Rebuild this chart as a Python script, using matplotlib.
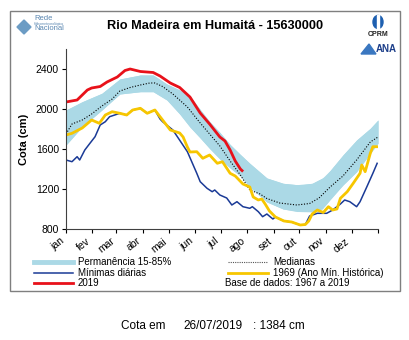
import matplotlib
matplotlib.use('Agg')
import matplotlib.pyplot as plt
from matplotlib.lines import Line2D
from matplotlib.patches import Rectangle, Polygon, Ellipse
import numpy as np

plt.rcParams['font.family'] = ['Liberation Sans', 'DejaVu Sans']

months = ['jan', 'fev', 'mar', 'abr', 'mai', 'jun', 'jul', 'ago', 'set', 'out', 'nov', 'dez']
month_starts = [0, 31, 59, 90, 120, 151, 181, 212, 243, 273, 304, 334, 365]

# faixa de permanencia 15-85% (dia do ano, cota cm)
band_up_days = [0, 19, 42, 63, 87, 102, 118, 133, 145, 157, 168, 180, 192, 204, 215, 235, 254, 274, 288, 303, 324, 340, 356, 365]
band_up_vals = [1990, 2073, 2157, 2300, 2340, 2340, 2250, 2190, 2130, 1995, 1875, 1765, 1645, 1545, 1457, 1310, 1257, 1240, 1257, 1323, 1540, 1690, 1807, 1890]
band_lo_days = [0, 19, 42, 63, 87, 102, 118, 133, 145, 157, 168, 180, 192, 204, 215, 235, 254, 270, 288, 300, 309, 324, 340, 356, 365]
band_lo_vals = [1640, 1823, 1990, 2150, 2173, 2173, 2090, 1950, 1820, 1710, 1605, 1500, 1410, 1330, 1220, 1070, 1000, 975, 973, 1000, 1100, 1240, 1373, 1557, 1657]

# medianas
med_days = [0, 7, 19, 30, 42, 54, 63, 75, 87, 98, 104, 113, 125, 142, 157, 172, 180, 192, 204, 215, 227, 235, 250, 270, 285, 296, 309, 324, 340, 356, 365]
med_vals = [1750, 1850, 1890, 1950, 2030, 2100, 2180, 2215, 2240, 2260, 2260, 2225, 2150, 2020, 1860, 1710, 1630, 1480, 1340, 1190, 1150, 1105, 1060, 1040, 1055, 1110, 1220, 1330, 1490, 1670, 1720]

# 1969 (ano minimo historico)
y1969_days = [0, 7, 19, 30, 39, 46, 54, 63, 71, 78, 87, 95, 104, 113, 122, 133, 137, 142, 145, 153, 160, 168, 177, 183, 192, 198, 207, 215, 219, 225, 229, 233, 238, 245, 255, 264, 274, 280, 284, 288, 294, 301, 307, 312, 317, 321, 329, 336, 344, 346, 350, 356, 359, 365]
y1969_vals = [1740, 1757, 1810, 1890, 1857, 1940, 1973, 1957, 1940, 1990, 2007, 1957, 1990, 1890, 1790, 1760, 1720, 1620, 1570, 1573, 1507, 1540, 1457, 1473, 1357, 1330, 1250, 1220, 1120, 1090, 1100, 1050, 980, 920, 880, 870, 840, 845, 880, 950, 990, 965, 1023, 990, 1000, 1107, 1173, 1257, 1357, 1440, 1373, 1557, 1623, 1623]

# minimas diarias
min_days = [0, 7, 13, 16, 22, 28, 34, 40, 46, 51, 57, 63, 71, 78, 87, 95, 104, 110, 113, 125, 142, 153, 157, 165, 171, 174, 180, 188, 194, 200, 207, 215, 218, 225, 230, 235, 242, 245, 255, 264, 274, 280, 285, 294, 305, 312, 321, 326, 332, 340, 344, 352, 359, 364]
min_vals = [1490, 1473, 1523, 1490, 1590, 1657, 1723, 1840, 1873, 1923, 1940, 1957, 1940, 1990, 2007, 1957, 1990, 1900, 1873, 1790, 1573, 1357, 1273, 1207, 1173, 1190, 1140, 1110, 1040, 1073, 1023, 1007, 1023, 973, 923, 950, 900, 920, 880, 870, 840, 845, 930, 957, 957, 990, 1050, 1090, 1073, 1023, 1073, 1223, 1357, 1457]

# 2019
y2019_days = [0, 13, 25, 30, 40, 48, 60, 69, 75, 87, 102, 110, 122, 133, 145, 157, 168, 180, 186, 190, 192, 198, 204, 206]
y2019_vals = [2070, 2090, 2190, 2210, 2225, 2270, 2320, 2385, 2400, 2375, 2365, 2330, 2260, 2215, 2120, 1960, 1850, 1720, 1680, 1620, 1590, 1480, 1400, 1384]

fig = plt.figure(figsize=(4.1, 3.4), dpi=100)
W, H = 410.0, 340.0

def fx(x):
    return x / W

def fy(y):
    return 1 - y / H

# moldura
fig.add_artist(Rectangle((fx(10), fy(291)), 390 / W, 280 / H, fill=False,
                         edgecolor='#7f7f7f', lw=1.0, transform=fig.transFigure))

ax = fig.add_axes([fx(66), fy(229), (378 - 66) / W, (229 - 49) / H])

ax.fill_between(band_up_days, band_up_vals, np.interp(band_up_days, band_lo_days, band_lo_vals),
                color='#abd9e6', lw=0)
ax.fill_between(band_lo_days, np.interp(band_lo_days, band_up_days, band_up_vals), band_lo_vals,
                color='#abd9e6', lw=0)
ax.plot(med_days, med_vals, color='black', lw=0.8, ls=(0, (1, 1.5)))
ax.plot(min_days, min_vals, color='#1a3a96', lw=1.1)
ax.plot(y1969_days, y1969_vals, color='#f7c600', lw=2.0)
ax.plot(y2019_days, y2019_vals, color='#e8111a', lw=2.0)

ax.set_xlim(0, 365)
ax.set_ylim(800, 2600)
ax.set_yticks([800, 1200, 1600, 2000, 2400])
ax.set_xticks(month_starts)
ax.set_xticklabels(months + [''], rotation=38, ha='right', va='top', fontsize=7.5)
ax.tick_params(axis='y', labelsize=7.5, length=3, width=0.8, pad=2)
ax.tick_params(axis='x', length=3, width=0.8, pad=2)
for s in ['top', 'right']:
    ax.spines[s].set_visible(False)
for s in ['left', 'bottom']:
    ax.spines[s].set_color('#404040')
    ax.spines[s].set_linewidth(0.8)
ax.set_ylabel('Cota (cm)', fontsize=8, fontweight='bold', labelpad=5)

# titulo e logos
fig.text(fx(215), fy(26), 'Rio Madeira em Humaitá - 15630000', ha='center', va='center',
         fontsize=9.2, fontweight='bold')
fig.add_artist(Polygon([[fx(17), fy(27)], [fx(24), fy(20)], [fx(31), fy(27)], [fx(24), fy(34)]],
                       closed=True, color='#6c9cc4', transform=fig.transFigure))
fig.text(fx(34), fy(18), 'Rede', fontsize=5.5, color='#5a86b0', va='center')
fig.text(fx(34), fy(24), 'Hidrometeorológica', fontsize=2.5, color='#5a86b0', va='center')
fig.text(fx(34), fy(29), 'Nacional', fontsize=5.5, color='#5a86b0', va='center')
fig.add_artist(Ellipse((fx(378), fy(22)), 10 / W, 13 / H, color='#1d5fb0', transform=fig.transFigure))
fig.add_artist(Rectangle((fx(376.8), fy(29)), 2.4 / W, 14 / H, color='white', transform=fig.transFigure))
fig.text(fx(378), fy(34), 'CPRM', fontsize=5, fontweight='bold', color='#222222', ha='center', va='center')
fig.text(fx(386), fy(49), 'ANA', fontsize=7, fontweight='bold', color='#1d3f8a', ha='center', va='center')
fig.add_artist(Polygon([[fx(361), fy(54)], [fx(369), fy(44)], [fx(376), fy(54)]],
                       closed=True, color='#3a77c0', transform=fig.transFigure))

# legenda
def leg(x1, x2, y, label, **kw):
    fig.add_artist(Line2D([fx(x1), fx(x2)], [fy(y), fy(y)], transform=fig.transFigure, **kw))
    fig.text(fx(x2 + 5), fy(y), label, fontsize=7, va='center')

leg(34, 73, 262, 'Permanência 15-85%', color='#abd9e6', lw=3.5)
leg(34, 73, 272.5, 'Mínimas diárias', color='#1a3a96', lw=1.1)
leg(34, 73, 283, '2019', color='#e8111a', lw=2.0)
leg(228, 268, 262, 'Medianas', color='#555555', lw=0.8, ls=(0, (1, 1)))
leg(228, 268, 272.5, '1969 (Ano Mín. Histórica)', color='#f7c600', lw=2.0)
fig.text(fx(225), fy(283), 'Base de dados: 1967 a 2019', fontsize=7, va='center')

# cota atual
fig.text(fx(121), fy(326), 'Cota em', fontsize=8.5, va='center')
fig.text(fx(183), fy(326), '26/07/2019', fontsize=8.5, va='center')
fig.text(fx(253), fy(326), ': 1384 cm', fontsize=8.5, va='center')

fig.savefig('out.png', dpi=100)
